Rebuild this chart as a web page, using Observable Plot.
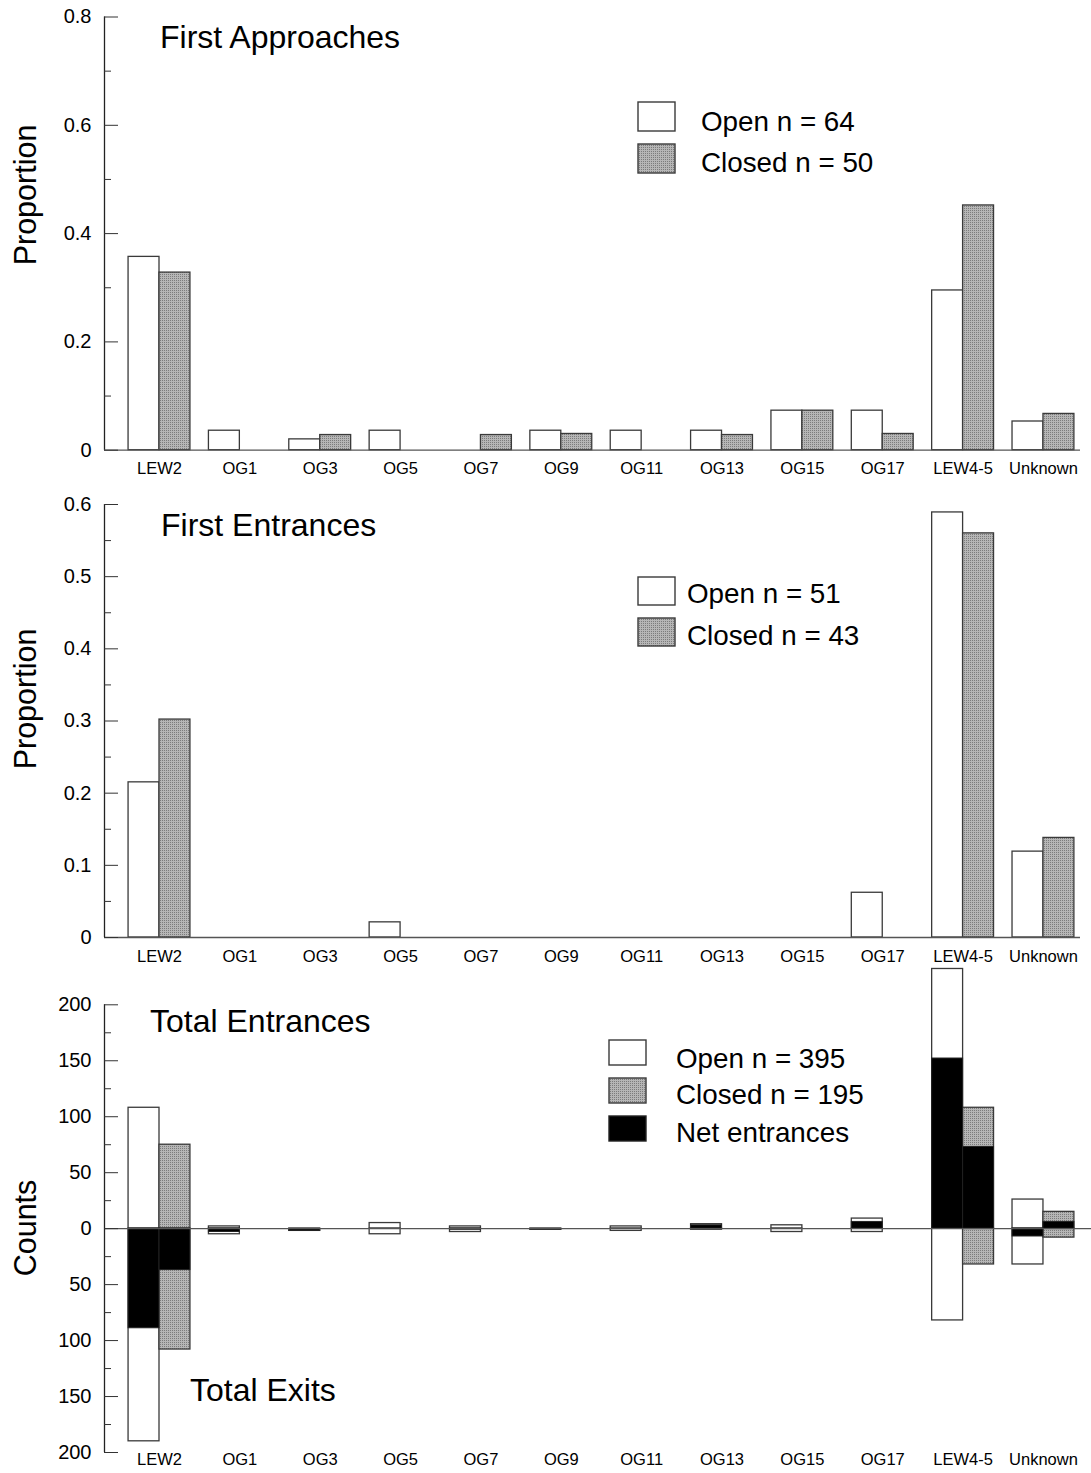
<!DOCTYPE html>
<html>
<head>
<meta charset="utf-8">
<script src="https://cdn.jsdelivr.net/npm/d3@7"></script>
<script src="https://cdn.jsdelivr.net/npm/@observablehq/plot@0.6"></script>
<style>
  body { margin: 0; background: #fff; }
  #fig { position: relative; width: 1091px; height: 1473px; font-family: "Liberation Sans", Arial, sans-serif; color: #000; }
  .panel { position: absolute; left: 0; }
  .ann { position: absolute; white-space: nowrap; line-height: 1; }
  .ylab { position: absolute; white-space: nowrap; line-height: 1; transform: translate(-50%, -50%) rotate(-90deg); }
  .sw { position: absolute; }
</style>
</head>
<body>
<svg width="0" height="0" style="position:absolute">
  <defs>
    <pattern id="stipple" width="2" height="2" patternUnits="userSpaceOnUse">
      <rect width="2" height="2" fill="#b6b6b6"></rect>
      <rect width="1" height="1" fill="#7c7c7c"></rect>
    </pattern>
  </defs>
</svg>
<div id="fig"></div>
<script>
// ---------------- data ----------------
const categories = ["LEW2", "OG1", "OG3", "OG5", "OG7", "OG9", "OG11", "OG13", "OG15", "OG17", "LEW4-5", "Unknown"];

// First Approaches (proportion)
const approachOpen   = [0.357, 0.036, 0.020, 0.036, 0.000, 0.036, 0.036, 0.036, 0.073, 0.073, 0.295, 0.053];
const approachClosed = [0.328, 0.000, 0.028, 0.000, 0.028, 0.030, 0.000, 0.028, 0.073, 0.030, 0.452, 0.067];

// First Entrances (proportion)
const entranceOpen   = [0.215, 0, 0, 0.021, 0, 0, 0, 0, 0, 0.062, 0.589, 0.119];
const entranceClosed = [0.302, 0, 0, 0, 0, 0, 0, 0, 0, 0, 0.560, 0.138];

// Total entrances / exits (counts)
const totalInOpen    = [108, 2, 0, 5, 2, 0, 2, 4, 3, 9, 232, 26];
const totalOutOpen   = [190, 5, 2, 5, 3, 1, 2, 1, 3, 3, 82, 32];
const netOpen        = [-89, -3, -2, 0, -1, -1, 0, 3, 0, 6, 152, -7];
const totalInClosed  = [75, 0, 0, 0, 0, 0, 0, 0, 0, 0, 108, 15];
const totalOutClosed = [108, 0, 0, 0, 0, 0, 0, 0, 0, 0, 32, 8];
const netClosed      = [-37, 0, 0, 0, 0, 0, 0, 0, 0, 0, 73, 6];

// tick labels
const ticks1Major = [0, 0.2, 0.4, 0.6, 0.8];
const ticks1Minor = [0.1, 0.3, 0.5, 0.7];
const ticks2Major = [0, 0.1, 0.2, 0.3, 0.4, 0.5, 0.6];
const ticks2Minor = [0.05, 0.15, 0.25, 0.35, 0.45, 0.55];
const ticks3Major = [-200, -150, -100, -50, 0, 50, 100, 150, 200];
const ticks3Minor = [-175, -125, -75, -25, 25, 75, 125, 175];

// legend / annotation text
const titles = ["First Approaches", "First Entrances", "Total Entrances", "Total Exits"];
const legend1 = ["Open n = 64", "Closed n = 50"];
const legend2 = ["Open n = 51", "Closed n = 43"];
const legend3 = ["Open n = 395", "Closed n = 195", "Net entrances"];

// ---------------- layout ----------------
const W = 1091;
const AXIS_X = 104, CENTER0 = 159, STEP = 80.36, HW = 0.385;
const FONT = '"Liberation Sans", Arial, sans-serif';
const EDGE = "#3a3a3a";
const GRAY = "url(#stipple)";

function xDomain(mr) {
  return [-(CENTER0 - AXIS_X) / STEP, (categories.length - 1) + (W - mr - (CENTER0 + (categories.length - 1) * STEP)) / STEP];
}
const xl = d => d.s === "open" ? d.i - HW : d.i;
const xr = d => d.s === "open" ? d.i : d.i + HW;

function pairRows(open, closed) {
  const rows = [];
  categories.forEach((c, i) => {
    rows.push({i, c, s: "open", lo: 0, hi: open[i]});
    rows.push({i, c, s: "closed", lo: 0, hi: closed[i]});
  });
  return rows.filter(d => d.hi !== d.lo);
}

function proportionBars(open, closed) {
  const rows = pairRows(open, closed);
  return [
    Plot.rectY(rows.filter(d => d.s === "open"), {x1: xl, x2: xr, y1: "lo", y2: "hi", fill: "white", stroke: EDGE, strokeWidth: 1.3}),
    Plot.rectY(rows.filter(d => d.s === "closed"), {x1: xl, x2: xr, y1: "lo", y2: "hi", fill: GRAY, stroke: EDGE, strokeWidth: 1.3})
  ];
}

function countBars() {
  const inRows = pairRows(totalInOpen, totalInClosed);
  const outRows = pairRows(totalOutOpen.map(v => -v), totalOutClosed.map(v => -v)).map(d => ({...d, lo: d.hi, hi: 0}));
  const netRows = pairRows(netOpen, netClosed).map(d => d.hi < 0 ? {...d, lo: d.hi, hi: 0} : d);
  const all = inRows.concat(outRows);
  return [
    Plot.rectY(all.filter(d => d.s === "open"), {x1: xl, x2: xr, y1: "lo", y2: "hi", fill: "white", stroke: EDGE, strokeWidth: 1.3}),
    Plot.rectY(all.filter(d => d.s === "closed"), {x1: xl, x2: xr, y1: "lo", y2: "hi", fill: GRAY, stroke: EDGE, strokeWidth: 1.3}),
    Plot.rectY(netRows, {x1: xl, x2: xr, y1: "lo", y2: "hi", fill: "black", stroke: "#222", strokeWidth: 1})
  ];
}

function makePanel({height, mt, mb, mr, yDomain, major, minor, fmt, xPad, marks}) {
  const xd = xDomain(mr);
  return Plot.plot({
    width: W, height,
    marginLeft: AXIS_X, marginRight: mr, marginTop: mt, marginBottom: mb,
    style: {fontFamily: FONT, overflow: "visible", background: "transparent"},
    x: {type: "linear", domain: xd, axis: null, label: null},
    y: {domain: yDomain, axis: null, label: null},
    marks: [
      ...marks,
      Plot.ruleY([0], {stroke: "#555", strokeWidth: 1.3}),
      Plot.ruleX([xd[0]], {y1: yDomain[0], y2: yDomain[1], stroke: "#222", strokeWidth: 1.3}),
      Plot.axisY({ticks: major, tickSize: -14, tickFormat: () => "", label: null, stroke: "#333"}),
      Plot.axisY({ticks: minor, tickSize: -7, tickFormat: () => "", label: null, stroke: "#333"}),
      Plot.axisY({ticks: major, tickSize: 0, tickPadding: 13, tickFormat: fmt, fontSize: 20, label: null}),
      Plot.axisX({ticks: d3.range(categories.length), tickSize: 0, tickPadding: xPad, tickFormat: i => categories[i], fontSize: 16.5, label: null})
    ]
  });
}

const fig = document.getElementById("fig");
function place(node, top) {
  const wrap = document.createElement("div");
  wrap.className = "panel";
  wrap.style.top = top + "px";
  wrap.appendChild(node);
  fig.appendChild(wrap);
}
function ann(text, left, top, size, cls = "ann") {
  const d = document.createElement("div");
  d.className = cls;
  d.textContent = text;
  d.style.left = left + "px";
  d.style.top = top + "px";
  d.style.fontSize = size + "px";
  fig.appendChild(d);
}
function swatch(left, top, w, h, fill, stroke) {
  const ns = "http://www.w3.org/2000/svg";
  const s = document.createElementNS(ns, "svg");
  s.setAttribute("class", "sw");
  s.setAttribute("width", w + 2);
  s.setAttribute("height", h + 2);
  s.style.left = (left - 1) + "px";
  s.style.top = (top - 1) + "px";
  const r = document.createElementNS(ns, "rect");
  r.setAttribute("x", 1); r.setAttribute("y", 1);
  r.setAttribute("width", w); r.setAttribute("height", h);
  r.setAttribute("fill", fill); r.setAttribute("stroke", stroke); r.setAttribute("stroke-width", 1.4);
  s.appendChild(r);
  fig.appendChild(s);
}

const fmtProp = d => d === 0 ? "0" : d.toFixed(1);

place(makePanel({height: 480, mt: 16.5, mb: 30.3, mr: 11, yDomain: [0, 0.8], major: ticks1Major, minor: ticks1Minor, fmt: fmtProp, xPad: 12,
  marks: proportionBars(approachOpen, approachClosed)}), 0);
place(makePanel({height: 480, mt: 24, mb: 23, mr: 11, yDomain: [0, 0.6], major: ticks2Major, minor: ticks2Minor, fmt: fmtProp, xPad: 13,
  marks: proportionBars(entranceOpen, entranceClosed)}), 480);
place(makePanel({height: 513, mt: 44.3, mb: 21, mr: 0, yDomain: [-200, 200], major: ticks3Major, minor: ticks3Minor, fmt: d => String(Math.abs(d)), xPad: 1,
  marks: countBars()}), 960);

// titles
ann(titles[0], 160, 20.5, 32);
ann(titles[1], 161, 509, 32);
ann(titles[2], 150, 1005, 32);
ann(titles[3], 190, 1374, 32);

// y labels
ann("Proportion", 25, 195, 30.5, "ylab");
ann("Proportion", 25, 699, 30.5, "ylab");
ann("Counts", 25, 1228, 30.5, "ylab");

// legends
swatch(638, 102, 37, 29, "white", EDGE);
swatch(638, 144, 37, 29, GRAY, EDGE);
ann(legend1[0], 701, 108, 27.8);
ann(legend1[1], 701, 148.5, 27.8);

swatch(638, 577, 37, 28, "white", EDGE);
swatch(638, 618, 37, 28, GRAY, EDGE);
ann(legend2[0], 687, 580, 27.8);
ann(legend2[1], 687, 622, 27.8);

swatch(609, 1040, 37, 25, "white", EDGE);
swatch(609, 1078, 37, 25, GRAY, EDGE);
swatch(609, 1116, 37, 25, "black", "#222");
ann(legend3[0], 676, 1045, 27.8);
ann(legend3[1], 676, 1081, 27.8);
ann(legend3[2], 676, 1119, 27.8);
</script>
</body>
</html>
